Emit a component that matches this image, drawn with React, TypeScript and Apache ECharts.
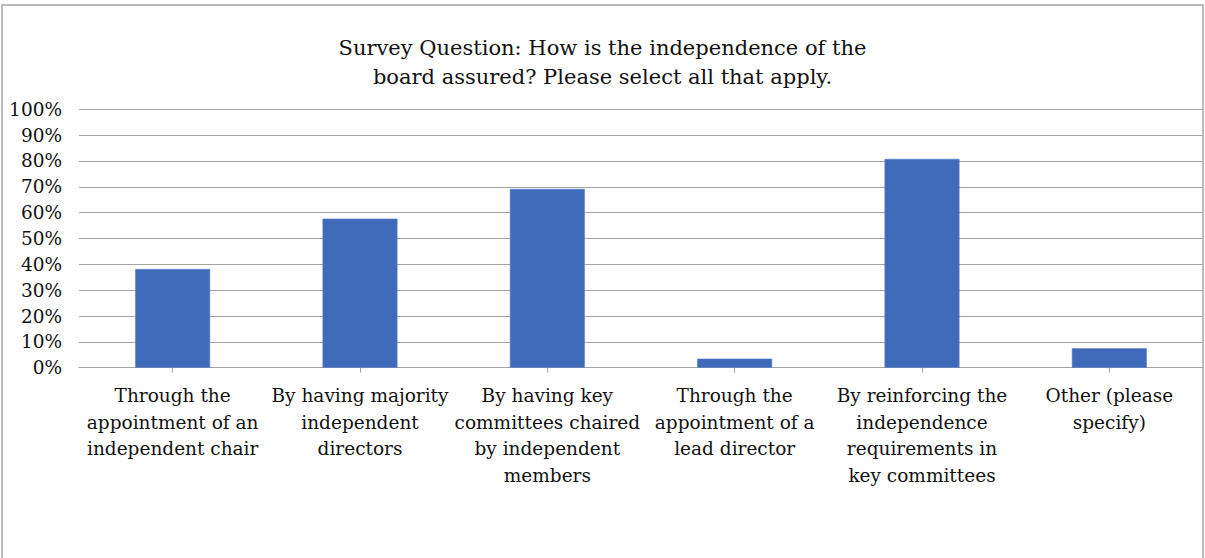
import React, { useEffect, useRef } from "react";
import * as echarts from "echarts";

const titleLines = [
  "Survey Question: How is the independence of the",
  "board assured? Please select all that apply.",
];

const categories = [
  "Through the\nappointment of an\nindependent chair",
  "By having majority\nindependent\ndirectors",
  "By having key\ncommittees chaired\nby independent\nmembers",
  "Through the\nappointment of a\nlead director",
  "By reinforcing the\nindependence\nrequirements in\nkey committees",
  "Other (please\nspecify)",
];

const values = [38.2, 57.7, 69.2, 3.5, 80.8, 7.5];

const yTicks = [0, 10, 20, 30, 40, 50, 60, 70, 80, 90, 100];

const FONT = "'DejaVu Serif', 'Liberation Serif', serif";
const GRID_COLOR = "#a3a3a3";

export default function App() {
  const ref = useRef<HTMLDivElement>(null);

  useEffect(() => {
    if (!ref.current) return;
    const chart = echarts.init(ref.current, undefined, { renderer: "svg" });
    chart.setOption({
      animation: false,
      backgroundColor: "#ffffff",
      title: {
        text: titleLines.join("\n"),
        left: "center",
        top: 28,
        textStyle: {
          fontFamily: FONT,
          fontSize: 21,
          fontWeight: "normal",
          color: "#111",
          lineHeight: 29,
          align: "center",
        },
      },
      graphic: [
        {
          type: "rect",
          shape: { x: 2, y: 5, width: 1201, height: 600 },
          style: { fill: "none", stroke: "#a6a6a6", lineWidth: 1.5 },
          silent: true,
        },
      ],
      grid: { left: 79, right: 2, top: 109.3, bottom: 190.3, containLabel: false },
      xAxis: [
        {
          type: "category",
          data: categories,
          position: "bottom",
          axisLine: { show: true, lineStyle: { color: GRID_COLOR, width: 1 } },
          axisTick: {
            show: true,
            alignWithLabel: true,
            length: 5,
            lineStyle: { color: GRID_COLOR, width: 1 },
          },
          axisLabel: {
            interval: 0,
            margin: 15,
            fontFamily: FONT,
            fontSize: 18.5,
            lineHeight: 26.5,
            color: "#111",
            verticalAlign: "top",
          },
        },
        {
          type: "category",
          data: categories,
          position: "bottom",
          gridIndex: 0,
          axisLine: { show: false },
          axisTick: {
            show: true,
            inside: true,
            alignWithLabel: true,
            length: 5,
            lineStyle: { color: GRID_COLOR, width: 1 },
          },
          axisLabel: { show: false },
        },
      ],
      yAxis: {
        type: "value",
        min: yTicks[0],
        max: yTicks[yTicks.length - 1],
        interval: 10,
        axisLine: { show: false },
        axisTick: { show: false },
        splitLine: { show: true, lineStyle: { color: GRID_COLOR, width: 1 } },
        axisLabel: {
          margin: 17,
          fontFamily: FONT,
          fontSize: 18.5,
          color: "#111",
          formatter: (v: number) => `${v}%`,
        },
      },
      series: [
        {
          type: "bar",
          data: values,
          xAxisIndex: 0,
          barWidth: "40%",
          itemStyle: { color: "#3F69B9", borderColor: "#5a80c6", borderWidth: 0.6 },
        },
      ],
    });
    return () => chart.dispose();
  }, []);

  return (
    <div
      ref={ref}
      style={{ position: "absolute", left: 0, top: 0, width: 1205, height: 558 }}
    />
  );
}
